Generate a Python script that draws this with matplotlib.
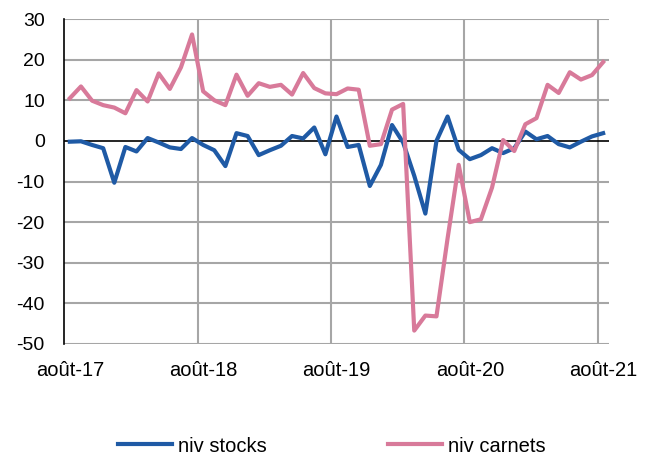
import numpy as np
import matplotlib.pyplot as plt

plt.rcParams['font.family'] = ['Liberation Sans', 'DejaVu Sans']
plt.rcParams['axes.unicode_minus'] = False

# monthly series, août-17 .. août-21
stocks = [-0.2, -0.1, -1.0, -1.8, -10.3, -1.5, -2.6, 0.7, -0.4, -1.6, -2.0, 0.7,
          -1.0, -2.3, -6.2, 1.9, 1.2, -3.5, -2.3, -1.2, 1.2, 0.6, 3.3, -3.3,
          6.0, -1.5, -1.0, -11.1, -5.9, 3.9, -0.4, -8.6, -17.9, 0.0, 6.0, -2.2,
          -4.5, -3.5, -1.8, -3.0, -1.8, 2.3, 0.4, 1.2, -0.8, -1.6, -0.2, 1.1, 1.9]
carnets = [10.5, 13.4, 9.9, 8.8, 8.2, 6.8, 12.5, 9.7, 16.6, 12.8, 18.1, 26.2,
           12.2, 10.0, 8.8, 16.3, 11.1, 14.2, 13.3, 13.8, 11.4, 16.7, 13.0, 11.7,
           11.5, 12.9, 12.6, -1.2, -0.8, 7.7, 9.1, -46.7, -43.0, -43.2, -24.0, -5.9,
           -20.0, -19.3, -11.5, 0.2, -2.5, 4.1, 5.6, 13.8, 11.8, 16.9, 15.1, 16.2, 19.4]
tick_labels = ['août-17', 'août-18', 'août-19', 'août-20', 'août-21']
yticks = [30, 20, 10, 0, -10, -20, -30, -40, -50]

x = np.arange(len(stocks))

fig = plt.figure(figsize=(6.54, 4.54), dpi=100)
ax = fig.add_axes([0.0983, 0.2423, 0.8324, 0.7158])

grid_c = '#a6a6a6'
for yv in yticks:
    if yv != 0:
        ax.axhline(yv, color=grid_c, lw=1.5, zorder=1)
for xv in np.arange(11.5, len(x), 12):
    ax.axvline(xv, color=grid_c, lw=1.5, zorder=1)
ax.axhline(0, color='black', lw=1.2, zorder=2)

ax.plot(x, stocks, color='#1f5aa5', lw=3, label='niv stocks', zorder=3)
ax.plot(x, carnets, color='#d87a9a', lw=3, label='niv carnets', zorder=3)

ax.set_xlim(-0.5, len(x) - 0.5)
ax.set_ylim(-50, 30)
ax.set_yticks(yticks)
ax.set_xticks(np.arange(0, len(x), 12))
ax.set_xticklabels(tick_labels)
ax.tick_params(axis='both', length=0, labelsize=14)
ax.tick_params(axis='y', pad=14)
ax.tick_params(axis='x', pad=12, labelsize=14.5)

for s in ['top', 'right', 'bottom']:
    ax.spines[s].set_visible(False)
ax.spines['left'].set_color('black')
ax.spines['left'].set_linewidth(1.2)

fig.legend(loc='center', bbox_to_anchor=(0.507, 0.0176), ncol=2, frameon=False,
           fontsize=14.5, handlelength=2.7, handletextpad=0.3, columnspacing=6.0,
           borderpad=0.1)

fig.savefig('out.png', dpi=100)
